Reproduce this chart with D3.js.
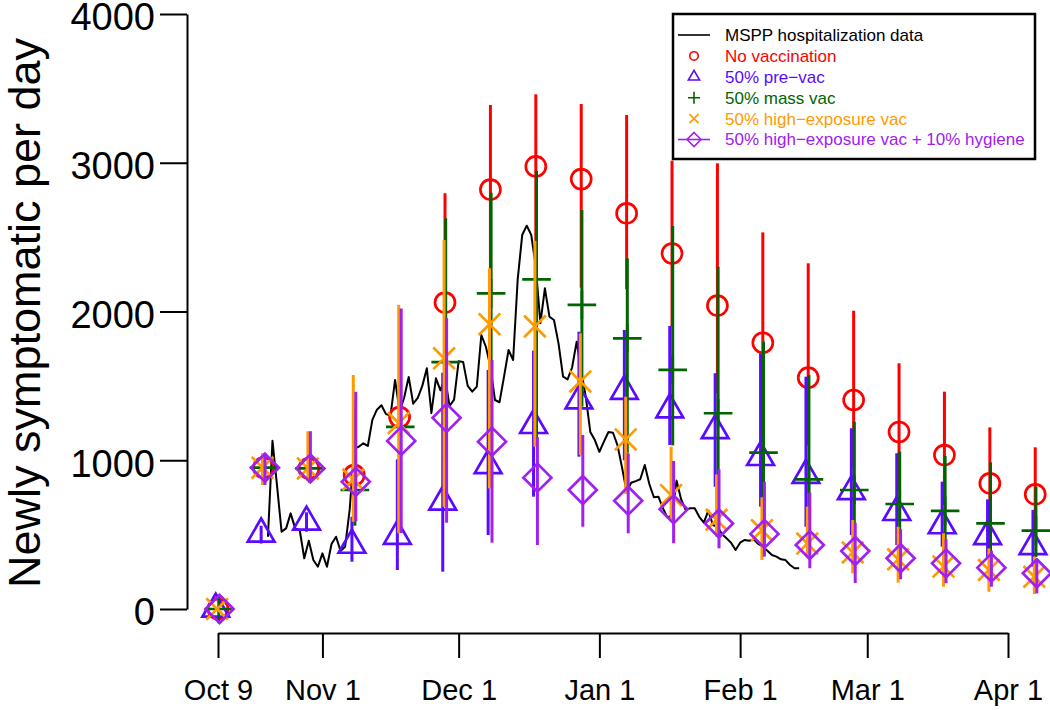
<!DOCTYPE html>
<html><head><meta charset="utf-8">
<script src="https://cdn.jsdelivr.net/npm/d3@7"></script>
<style>
body{margin:0;background:#fff}
svg{display:block;background:#fff}
text{font-family:"Liberation Sans",Arial,Helvetica,sans-serif}
</style>
</head><body>
<svg id="chart" width="1050" height="710"></svg>
<script>
// ---------------- DATA ----------------
const startDate = "2010-10-09";
const modelDays = [0,10,20,30,40,50,60,70,80,90,100,110,120,130,140,150,160,170,180];

const noVacMed = [0,950,945,900,1290,2060,2820,2975,2890,2660,2390,2040,1790,1555,1405,1190,1035,845,771];
const noVacLo  = [0,880,870,600,750,1100,2290,2450,2160,2150,1900,1450,1250,1100,950,800,700,580,520];
const noVacHi  = [0,1020,1150,1400,1950,2795,3388,3460,3395,3321,3014,2996,2532,2324,2005,1652,1461,1221,1087];

const preVacMed = [0,505,585,430,490,720,965,1235,1400,1465,1340,1200,1020,900,790,650,561,488,421];
const preVacLo  = [0,440,520,318,262,251,497,755,1024,1000,1103,822,688,553,497,430,419,341,285];
const preVacHi  = [0,560,650,620,1006,1589,1607,1737,1864,1876,1903,1585,1719,1562,1215,1047,856,737,666];

const massVacMed = [0,950,945,800,1225,1660,2122,2216,2044,1820,1607,1316,1051,872,800,706,659,576,527];
const massVacLo  = [0,900,880,560,700,1000,1300,1100,1360,1050,1100,830,650,600,560,500,440,390,350];
const massVacHi  = [0,1010,1100,1350,1900,2627,2799,2947,2682,2358,2575,2301,1797,1573,1259,1058,1029,986,822];

const highExpMed = [0,950,945,870,1250,1685,1915,1900,1530,1140,765,600,530,440,380,334,285,262,217];
const highExpLo  = [0,834,860,587,509,688,811,1091,1035,773,587,486,329,341,240,177,150,116,101];
const highExpHi  = [0,1047,1195,1573,2044,2481,2290,2475,1853,1427,1091,905,751,688,598,553,509,408,352];

const hygieneMed = [0,950,945,855,1130,1285,1125,883,800,728,670,575,505,430,390,341,307,278,240];
const hygieneLo  = [0,834,860,590,510,580,446,430,553,509,442,408,352,274,175,200,173,150,105];
const hygieneHi  = [0,1047,1195,1460,2020,1955,1675,1155,1170,1047,995,939,856,782,580,536,469,392,329];

// MSPP hospitalization data, daily from Oct 20, 2010
const msppStart = "2010-10-20";
const msppValues = [486,1131,830,520,542,643,542,531,341,459,329,284,374,284,437,486,390,419,666,1080,
  1091,1114,1096,1271,1340,1370,1310,1300,1540,1330,1420,1560,1380,1420,1500,1618,1316,1551,1470,1555,
  1365,1408,1666,1660,1500,1461,1495,1842,1763,1629,1405,1390,1562,1741,1674,2212,2514,2577,2514,2301,
  1921,2156,1965,1943,1786,1562,1544,1625,1797,1600,1427,1190,1136,1057,1125,1190,1185,1100,950,789,
  849,860,872,968,840,751,755,677,614,632,863,738,666,677,677,620,580,661,565,553,
  504,475,446,397,446,464,459,468,437,419,392,363,352,334,329,296,274,274];

const xTickDates = ["2010-10-09","2010-11-01","2010-12-01","2011-01-01","2011-02-01","2011-03-01","2011-04-01"];
const xTickLabels = ["Oct 9","Nov 1","Dec 1","Jan 1","Feb 1","Mar 1","Apr 1"];
const yTickValues = [0,1000,2000,3000,4000];

const legendLabels = ["MSPP hospitalization data","No vaccination","50% pre\u2212vac","50% mass vac",
  "50% high\u2212exposure vac","50% high\u2212exposure vac + 10% hygiene"];

// ---------------- STYLE ----------------
const series = [
  {name:"noVac",   med:noVacMed,   lo:noVacLo,   hi:noVacHi,   color:"#FF0000", shape:"circle",  offset:0},
  {name:"preVac",  med:preVacMed,  lo:preVacLo,  hi:preVacHi,  color:"#5A0AFF", shape:"triangle",offset:-0.5},
  {name:"massVac", med:massVacMed, lo:massVacLo, hi:massVacHi, color:"#006400", shape:"plus",    offset:0.15},
  {name:"highExp", med:highExpMed, lo:highExpLo, hi:highExpHi, color:"#FF9A00", shape:"cross",   offset:-0.2},
  {name:"hygiene", med:hygieneMed, lo:hygieneLo, hi:hygieneHi, color:"#A020F0", shape:"diamond", offset:0.35}
];

const parse = d3.utcParse("%Y-%m-%d");
const day0 = parse(startDate);
const addDays = (d, n) => new Date(d.getTime() + n * 86400000);

const svg = d3.select("#chart");
svg.append("rect").attr("width",1050).attr("height",710).attr("fill","#fff");

const x = d3.scaleUtc().domain([parse("2010-10-09"), parse("2011-04-01")]).range([218, 1008]);
const y = d3.scaleLinear().domain([0, 4000]).range([609, 14]);

function shapePath(shape, cx, cy, s) {
  switch (shape) {
    case "triangle": {
      const r = 15.4*s, hx = 13.35*s, b = 7.7*s;
      return `M${cx},${cy-r}L${cx+hx},${cy+b}L${cx-hx},${cy+b}Z`;
    }
    case "plus": {
      const a = 14.3*s;
      return `M${cx-a},${cy}H${cx+a}M${cx},${cy-a}V${cy+a}`;
    }
    case "cross": {
      const a = 10.8*s;
      return `M${cx-a},${cy-a}L${cx+a},${cy+a}M${cx-a},${cy+a}L${cx+a},${cy-a}`;
    }
    case "diamond": {
      const a = 14*s;
      return `M${cx},${cy-a}L${cx+a},${cy}L${cx},${cy+a}L${cx-a},${cy}Z`;
    }
  }
  return "";
}
function drawSymbol(g, shape, cx, cy, s, color, sw) {
  if (shape === "circle") {
    g.append("circle").attr("cx",cx).attr("cy",cy).attr("r",10*s)
      .attr("fill","none").attr("stroke",color).attr("stroke-width",sw);
  } else {
    g.append("path").attr("d",shapePath(shape,cx,cy,s))
      .attr("fill","none").attr("stroke",color).attr("stroke-width",sw)
      .attr("stroke-linejoin","miter");
  }
}

// ---------------- MSPP line ----------------
const msppDay0 = parse(msppStart);
const msppData = msppValues.map((v,i) => ({date: addDays(msppDay0, i), v}));
svg.append("path").datum(msppData)
  .attr("d", d3.line().x(d => x(d.date)).y(d => y(d.v)))
  .attr("fill","none").attr("stroke","#000").attr("stroke-width",2)
  .attr("stroke-linejoin","round");

// ---------------- Model series ----------------
series.forEach(s => {
  const g = svg.append("g");
  modelDays.forEach((d, i) => {
    const cx = x(addDays(day0, d + s.offset));
    if (s.hi[i] > s.lo[i]) {
      g.append("line").attr("x1",cx).attr("x2",cx)
        .attr("y1",y(s.lo[i])).attr("y2",y(s.hi[i]))
        .attr("stroke",s.color).attr("stroke-width",3);
    }
  });
  modelDays.forEach((d, i) => {
    const cx = x(addDays(day0, d + s.offset));
    drawSymbol(g, s.shape, cx, y(s.med[i]), 1, s.color, 2.7);
  });
});

// ---------------- Axes ----------------
const yAxis = d3.axisLeft(y).tickValues(yTickValues).tickFormat(d3.format("d"))
  .tickSize(27).tickSizeOuter(0).tickPadding(5);
const gy = svg.append("g").attr("transform","translate(187,0)").call(yAxis);
gy.select(".domain").attr("stroke","#000").attr("stroke-width",2);
gy.selectAll(".tick line").attr("stroke","#000").attr("stroke-width",2);
gy.selectAll(".tick text").attr("font-size",38).attr("fill","#000")
  .attr("dy","0.42em")
  .attr("font-family",'"Liberation Sans",Arial,sans-serif');

const xAxis = d3.axisBottom(x).tickValues(xTickDates.map(parse))
  .tickFormat((d,i) => xTickLabels[i]).tickSize(25).tickSizeOuter(0).tickPadding(21);
const gx = svg.append("g").attr("transform","translate(0,633)").call(xAxis);
gx.select(".domain").attr("stroke","#000").attr("stroke-width",2);
gx.selectAll(".tick line").attr("stroke","#000").attr("stroke-width",2);
gx.selectAll(".tick text").attr("font-size",29).attr("fill","#000")
  .attr("font-family",'"Liberation Sans",Arial,sans-serif');

svg.append("text").attr("transform","translate(40,313) rotate(-90)")
  .attr("text-anchor","middle").attr("font-size",45).attr("fill","#000")
  .text("Newly symptomatic per day");

// ---------------- Legend ----------------
const lg = svg.append("g");
lg.append("rect").attr("x",673).attr("y",14).attr("width",362).attr("height",145)
  .attr("fill","#fff").attr("stroke","#000").attr("stroke-width",2.5);
const rowY = i => 35 + i * 20.9;
const legendColors = ["#000"].concat(series.map(s => s.color));
legendLabels.forEach((lab, i) => {
  const yy = rowY(i);
  if (i === 0) {
    lg.append("line").attr("x1",678).attr("x2",710).attr("y1",yy).attr("y2",yy)
      .attr("stroke","#000").attr("stroke-width",1.6);
  } else {
    const s = series[i-1];
    if (s.name === "hygiene") {
      lg.append("line").attr("x1",678).attr("x2",710).attr("y1",yy).attr("y2",yy)
        .attr("stroke",s.color).attr("stroke-width",1.6);
    }
    drawSymbol(lg, s.shape, 694, yy, s.shape === "diamond" ? 0.5 : 0.42, s.color, 1.6);
  }
  lg.append("text").attr("x",725).attr("y",yy).attr("dy","0.35em")
    .attr("font-size",17).attr("fill",legendColors[i]).text(lab);
});
</script>
</body></html>
